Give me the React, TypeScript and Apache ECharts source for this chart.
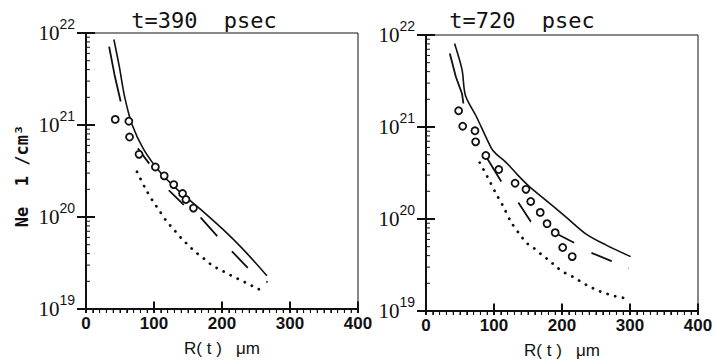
import React, { useEffect, useRef } from 'react';
import * as echarts from 'echarts';

// ---- text ----
const panelTitles = ['t=390  psec', 't=720  psec'];
const xAxisName = 'R( t )   \u03bcm';
const yAxisName = 'Ne  1 /cm\u00b3';

// ---- axis decoration (tick values) ----
const xMajorTicks = [100, 200, 300, 400];
const xMinorTicks: number[] = [];
for (let v = 10; v < 400; v += 10) if (v % 100 !== 0) xMinorTicks.push(v);
const yMajorTicks = [1e19, 1e20, 1e21, 1e22];
const yMinorTicks: number[] = [];
for (const e of [19, 20, 21]) for (const k of [2, 3, 4, 5, 6, 7, 8, 9]) yMinorTicks.push(k * Math.pow(10, e));

// ---- left panel (t = 390 psec): [R (um), Ne (1/cm^3)] ----
const leftSolid = [
  [41, 8.5e21], [49, 4.3e21], [57, 2.0e21], [68, 1.0e21], [85, 5.4e20], [110, 3.0e20],
  [134, 2.0e20], [169, 1.2e20], [208, 6.6e19], [237, 4.0e19], [266, 2.3e19],
];
const leftDashed = [
  [34, 7.1e21], [42, 3.5e21], [51, 1.8e21], [76, 5.6e20], [93, 3.8e20], [122, 1.95e20],
  [144, 1.35e20], [169, 9.8e19], [193, 6.2e19], [215, 4.2e19], [239, 2.75e19], [267, 1.95e19],
];
const leftDotted = [
  [75, 3.1e20], [88, 2.0e20], [98, 1.5e20], [108, 1.17e20], [118, 9.1e19], [130, 7.2e19],
  [140, 5.9e19], [152, 4.8e19], [162, 4.1e19], [174, 3.5e19], [185, 3.0e19], [196, 2.7e19],
  [207, 2.45e19], [217, 2.25e19], [228, 2.05e19], [239, 1.87e19], [251, 1.68e19], [260, 1.58e19],
];
const leftCircles = [
  [43, 1.15e21], [63, 1.1e21], [64, 7.4e20], [78, 4.8e20], [102, 3.5e20], [115, 2.8e20],
  [129, 2.25e20], [142, 1.8e20], [147, 1.55e20], [158, 1.25e20],
];

// ---- right panel (t = 720 psec) ----
const rightSolid = [
  [42, 8.1e21], [53, 4.2e21], [58, 2.2e21], [74, 1.3e21], [96, 5.9e20], [103, 5.1e20],
  [118, 4.1e20], [135, 3.0e20], [152, 2.25e20], [172, 1.7e20], [206, 1.05e20], [235, 6.9e19],
  [265, 5.2e19], [301, 3.9e19],
];
const rightDashed = [
  [35, 6.3e21], [44, 3.5e21], [53, 2.3e21], [55, 1.8e21], [88, 4.8e20], [110, 2.6e20],
  [136, 1.5e20], [154, 9.4e19], [194, 6.8e19], [218, 5.5e19], [243, 4.3e19], [272, 3.5e19],
  [298, 2.9e19],
];
const rightDotted = [
  [79, 4.1e20], [90, 2.9e20], [102, 1.95e20], [114, 1.35e20], [125, 9.3e19], [136, 7.1e19],
  [148, 5.5e19], [159, 4.8e19], [170, 4.1e19], [182, 3.5e19], [192, 3.0e19], [204, 2.6e19],
  [216, 2.35e19], [227, 2.1e19], [237, 1.9e19], [249, 1.72e19], [259, 1.6e19], [271, 1.5e19],
  [281, 1.43e19], [293, 1.38e19],
];
const rightCircles = [
  [48, 1.5e21], [54, 1.02e21], [72, 9.1e20], [73, 6.9e20], [88, 4.9e20], [107, 3.45e20],
  [131, 2.45e20], [147, 2.1e20], [154, 1.55e20], [168, 1.18e20], [178, 8.9e19], [190, 7.1e19],
  [201, 4.9e19], [215, 3.9e19],
];

const INK = '#111';

const leftDash = [56, 50, 19, 33, 21, 21, 25, 21, 23, 23, 3, 80];
const rightDash = [52, 58, 29, 27, 23, 30, 18, 20, 22, 18, 3, 80];

export default function App() {
  const ref = useRef<HTMLDivElement>(null);
  useEffect(() => {
    if (!ref.current) return;
    const chart = echarts.init(ref.current, null, { renderer: 'svg' });
    const grids = [
      { left: 86, top: 33, width: 272, height: 276 },
      { left: 426, top: 35, width: 272, height: 276 },
    ];
    const xAxes = grids.map((_, i) => ({
      type: 'value', gridIndex: i, min: 0, max: 400, interval: 100,
      name: xAxisName, nameLocation: 'middle', nameGap: 31,
      nameTextStyle: { fontSize: 17, fontFamily: 'Liberation Sans', color: INK },
      axisLine: { show: true, lineStyle: { color: INK, width: 2 } },
      axisTick: { show: true, length: 4, lineStyle: { color: INK, width: 2 } },
      minorTick: { show: true, splitNumber: 10, length: 4, lineStyle: { color: INK, width: 1 } },
      splitLine: { show: false },
      axisLabel: { fontSize: 17, fontWeight: 'bold', fontFamily: 'Liberation Sans', color: INK, margin: 6 },
    }));
    const yAxes = grids.map((_, i) => ({
      type: 'log', logBase: 10, gridIndex: i, min: 1e19, max: 1e22,
      axisLine: { show: true, lineStyle: { color: INK, width: 2 } },
      axisTick: { show: true, length: 9, lineStyle: { color: INK, width: 2 } },
      splitLine: { show: false },
      axisLabel: {
        margin: 11,
        formatter: (v: number) => `{b|10}{s|${Math.round(Math.log10(v))}}`,
        rich: {
          b: { fontSize: 21, fontFamily: 'Liberation Serif', color: INK },
          s: { fontSize: 14, fontFamily: 'Liberation Sans', color: INK, verticalAlign: 'bottom', padding: [0, 0, 18, 0] },
        },
      },
    }));
    const tickMarks = (i: number, data: number[][], size: number[], offset: number[]) => ({
      type: 'scatter', xAxisIndex: i, yAxisIndex: i, data, symbol: 'rect', symbolSize: size,
      symbolOffset: offset, clip: false, silent: true, z: 6,
      itemStyle: { color: INK, opacity: 1 },
    });
    const panel = (i: number, solid: number[][], dashed: number[][], dotted: number[][], circles: number[][], dash: number[]) => [
      {
        type: 'line', xAxisIndex: i, yAxisIndex: i, data: solid, showSymbol: false, smooth: 0.3,
        lineStyle: { color: INK, width: 1.6 },
      },
      {
        type: 'line', xAxisIndex: i, yAxisIndex: i, data: dashed, showSymbol: false, smooth: false,
        lineStyle: { color: INK, width: 1.8, type: dash },
      },
      {
        type: 'line', xAxisIndex: i, yAxisIndex: i, data: dotted, showSymbol: false, smooth: 0.3,
        lineStyle: { color: INK, width: 2.8, type: [0.1, 7.8], cap: 'round' },
      },
      {
        type: 'scatter', xAxisIndex: i, yAxisIndex: i, data: circles, symbol: 'circle', symbolSize: 7,
        itemStyle: { color: '#fff', borderColor: INK, borderWidth: 1.8, opacity: 1 }, z: 3,
      },
      tickMarks(i, xMinorTicks.map((v) => [v, 1e19]), [1, 4], [0, 2]),
      tickMarks(i, xMajorTicks.map((v) => [v, 1e19]), [2, 11], [0, -2]),
      tickMarks(i, yMinorTicks.map((v) => [0, v]), [4, 1], [2, 0]),
      tickMarks(i, yMajorTicks.map((v) => [0, v]), [18, 2], [0, 0]),
    ];
    chart.setOption({
      animation: false,
      grid: grids.map((g) => ({ ...g, outerBoundsMode: 'none', show: true, borderColor: INK, borderWidth: 1 })),
      xAxis: xAxes,
      yAxis: yAxes,
      series: [
        ...panel(0, leftSolid, leftDashed, leftDotted, leftCircles, leftDash),
        ...panel(1, rightSolid, rightDashed, rightDotted, rightCircles, rightDash),
      ],
      graphic: [
        {
          type: 'text', x: 204, y: 20,
          style: { text: panelTitles[0], fontSize: 22, fontFamily: 'DejaVu Sans Mono', fill: INK, textAlign: 'center', align: 'center', textVerticalAlign: 'middle', verticalAlign: 'middle' },
        },
        {
          type: 'text', x: 522, y: 20,
          style: { text: panelTitles[1], fontSize: 22, fontFamily: 'DejaVu Sans Mono', fill: INK, textAlign: 'center', align: 'center', textVerticalAlign: 'middle', verticalAlign: 'middle' },
        },
        {
          type: 'text', x: 22, y: 176, rotation: Math.PI / 2,
          style: { text: yAxisName, fontSize: 17, fontFamily: 'DejaVu Sans Mono', fontWeight: 'bold', fill: INK, textAlign: 'center', align: 'center', textVerticalAlign: 'middle', verticalAlign: 'middle' },
        },
      ],
    });
    return () => chart.dispose();
  }, []);
  return (
    <div
      ref={ref}
      style={{ position: 'fixed', left: 0, top: 0, width: 716, height: 363, background: '#fff' }}
    />
  );
}
